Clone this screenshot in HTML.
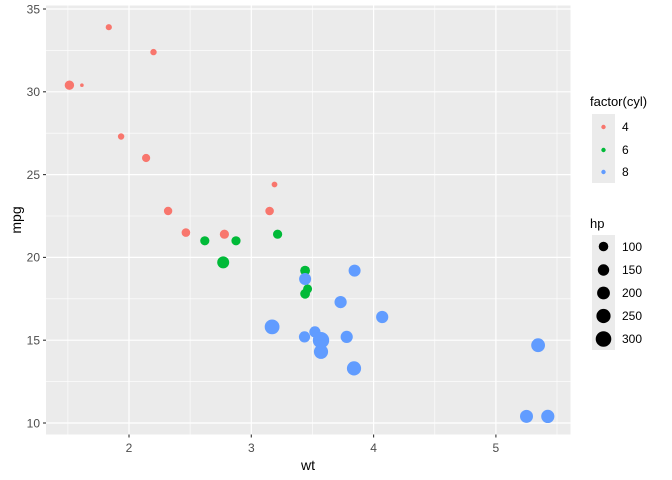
<!DOCTYPE html>
<html><head><meta charset="utf-8"><style>body{margin:0;background:#fff}svg{display:block;font-family:"Liberation Sans",Arial,sans-serif}</style></head><body>
<svg width="672" height="480" viewBox="0 0 672 480">
<rect width="672" height="480" fill="#fff"/>
<rect x="46" y="5.5" width="524.5" height="429" fill="#EBEBEB"/>
<g stroke="#fff" stroke-width="0.6">
<line x1="67.9" x2="67.9" y1="5.5" y2="434.5"/><line x1="190.1" x2="190.1" y1="5.5" y2="434.5"/><line x1="312.5" x2="312.5" y1="5.5" y2="434.5"/><line x1="434.8" x2="434.8" y1="5.5" y2="434.5"/><line x1="557" x2="557" y1="5.5" y2="434.5"/>
<line x1="46" x2="570.5" y1="381.6" y2="381.6"/><line x1="46" x2="570.5" y1="298.8" y2="298.8"/><line x1="46" x2="570.5" y1="216" y2="216"/><line x1="46" x2="570.5" y1="133.2" y2="133.2"/><line x1="46" x2="570.5" y1="50.4" y2="50.4"/>
</g>
<g stroke="#fff" stroke-width="1.2">
<line x1="129" x2="129" y1="5.5" y2="434.5"/><line x1="251.3" x2="251.3" y1="5.5" y2="434.5"/><line x1="373.6" x2="373.6" y1="5.5" y2="434.5"/><line x1="495.9" x2="495.9" y1="5.5" y2="434.5"/>
<line x1="46" x2="570.5" y1="423" y2="423"/><line x1="46" x2="570.5" y1="340.2" y2="340.2"/><line x1="46" x2="570.5" y1="257.4" y2="257.4"/><line x1="46" x2="570.5" y1="174.6" y2="174.6"/><line x1="46" x2="570.5" y1="91.8" y2="91.8"/><line x1="46" x2="570.5" y1="9" y2="9"/>
</g>
<g stroke="#333" stroke-width="1.1">
<line x1="129" x2="129" y1="434.5" y2="437.5"/><line x1="251.3" x2="251.3" y1="434.5" y2="437.5"/><line x1="373.6" x2="373.6" y1="434.5" y2="437.5"/><line x1="495.9" x2="495.9" y1="434.5" y2="437.5"/>
<line x1="43" x2="46" y1="423" y2="423"/><line x1="43" x2="46" y1="340.2" y2="340.2"/><line x1="43" x2="46" y1="257.4" y2="257.4"/><line x1="43" x2="46" y1="174.6" y2="174.6"/><line x1="43" x2="46" y1="91.8" y2="91.8"/><line x1="43" x2="46" y1="9" y2="9"/>
</g>
<g fill="#4D4D4D" font-size="12" text-anchor="middle">
<text x="129" y="452">2</text><text x="251.3" y="452">3</text><text x="373.6" y="452">4</text><text x="495.9" y="452">5</text>
</g>
<g fill="#4D4D4D" font-size="12" text-anchor="end">
<text x="40" y="427.3">10</text><text x="40" y="344.5">15</text><text x="40" y="261.7">20</text><text x="40" y="178.9">25</text><text x="40" y="96.1">30</text><text x="40" y="13.3">35</text>
</g>
<text x="308" y="470" font-size="14" text-anchor="middle">wt</text>
<text transform="translate(21,220) rotate(-90)" font-size="14" text-anchor="middle">mpg</text>
<g fill="#F8766D">
<circle cx="168.1" cy="211" r="4.2"/><circle cx="274.5" cy="184.5" r="2.9"/><circle cx="269.6" cy="211" r="4.3"/>
<circle cx="153.5" cy="52.1" r="3.2"/><circle cx="81.9" cy="85.2" r="1.8"/><circle cx="108.8" cy="27.2" r="3.1"/>
<circle cx="185.9" cy="232.6" r="4.3"/><circle cx="121.1" cy="136.5" r="3.2"/><circle cx="146.1" cy="158" r="4.1"/>
<circle cx="69.4" cy="85.2" r="4.7"/><circle cx="224.4" cy="234.2" r="4.6"/>
</g>
<g fill="#00BA38">
<circle cx="204.8" cy="240.8" r="4.6"/><circle cx="236" cy="240.8" r="4.6"/><circle cx="277.6" cy="234.2" r="4.6"/>
<circle cx="307.6" cy="288.9" r="4.5"/><circle cx="305.1" cy="270.6" r="4.9"/><circle cx="305.1" cy="293.8" r="4.9"/>
<circle cx="223.2" cy="262.4" r="6"/>
</g>
<g fill="#619CFF">
<circle cx="305.1" cy="279" r="6"/><circle cx="321" cy="351.8" r="7.1"/><circle cx="382.2" cy="317" r="6.1"/>
<circle cx="340.6" cy="302.1" r="6.1"/><circle cx="346.7" cy="336.9" r="6.1"/><circle cx="526.5" cy="416.4" r="6.5"/>
<circle cx="547.8" cy="416.4" r="6.6"/><circle cx="538.1" cy="345.2" r="6.9"/><circle cx="314.9" cy="331.9" r="5.6"/>
<circle cx="304.5" cy="336.9" r="5.6"/><circle cx="354" cy="368.4" r="7.1"/><circle cx="354.6" cy="270.6" r="6"/>
<circle cx="272.1" cy="326.9" r="7.4"/><circle cx="321" cy="340.2" r="8.2"/>
</g>
<text x="590" y="106" font-size="13">factor(cyl)</text>
<rect x="592" y="114" width="23" height="69" fill="#EBEBEB"/>
<circle cx="603.5" cy="127" r="2.2" fill="#F8766D"/><circle cx="603.5" cy="150" r="2.2" fill="#00BA38"/><circle cx="603.5" cy="172" r="2.2" fill="#619CFF"/>
<g font-size="12"><text x="622" y="131">4</text><text x="622" y="154">6</text><text x="622" y="176">8</text></g>
<text x="590" y="228" font-size="13">hp</text>
<rect x="592" y="235" width="23" height="115" fill="#EBEBEB"/>
<g fill="#000"><circle cx="603.5" cy="246.5" r="4.8"/><circle cx="603.5" cy="270" r="5.7"/><circle cx="603.5" cy="293" r="6.4"/><circle cx="603.5" cy="316" r="7.1"/><circle cx="603.5" cy="339" r="7.8"/></g>
<g font-size="12"><text x="622" y="251">100</text><text x="622" y="274">150</text><text x="622" y="297">200</text><text x="622" y="320">250</text><text x="622" y="343">300</text></g>
</svg>
</body></html>
